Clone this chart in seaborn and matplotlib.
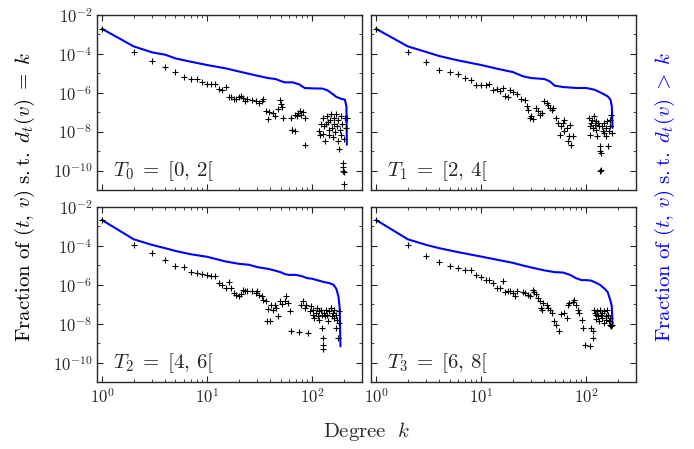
import matplotlib
matplotlib.use('Agg')
import matplotlib.pyplot as plt
import matplotlib.ticker as mticker
import seaborn as sns
import numpy as np
import pandas as pd

# --- data (values stored as log10 of the fraction) ---
labels = [r'$T_0\;=\;[0,\,2[$', r'$T_1\;=\;[2,\,4[$', r'$T_2\;=\;[4,\,6[$', r'$T_3\;=\;[6,\,8[$']

# fraction of (t,v) with d_t(v) = k   (black +)
t0_k = [1, 2, 3, 4, 5, 6, 7, 8, 9, 10, 11, 12, 13, 14, 15, 16, 17, 18, 19, 20, 21, 22, 23, 24,
        27, 29, 31, 33, 34, 36, 38, 39, 42, 44, 47, 49, 50, 52, 53, 63, 64, 65, 68, 69, 71, 73, 76,
        79, 81, 85, 86, 117, 120, 122, 126, 128, 131, 133, 136, 139, 141, 144, 146, 149, 152, 154,
        157, 160, 163, 166, 169, 172, 175, 178, 181, 184, 187, 190, 193, 196, 197, 198, 199, 200,
        203, 206, 210, 214]
t0_exp = [-2.72, -3.93, -4.38, -4.70, -4.94, -5.18, -5.28, -5.28, -5.47, -5.54, -5.57, -5.56,
          -5.81, -5.88, -5.71, -6.24, -6.22, -6.31, -6.31, -6.21, -6.19, -6.29, -6.41, -6.31,
          -6.36, -6.41, -6.53, -6.44, -6.34, -6.96, -7.35, -7.0, -7.05, -7.21, -6.85, -6.36, -6.6,
          -6.75, -7.30, -7.30, -7.9, -7.9, -7.98, -7.13, -7.21, -7.04, -6.96, -7.13, -7.01, -7.30,
          -8.70, -7.98, -8.2, -7.6, -8.1, -7.3, -7.7, -8.5, -7.6, -7.2, -7.5, -7.9, -8.2, -7.4,
          -7.1, -7.8, -8.3, -7.3, -7.6, -8.0, -7.1, -7.7, -8.5, -7.4, -8.9, -7.9, -7.2, -8.2,
          -7.6, -9.6, -9.8, -10.0, -10.1, -10.7, -8.4, -7.3, -7.8, -7.3]

t1_k = [1, 2, 3, 4, 5, 6, 7, 8, 9, 10, 11, 12, 13, 14, 15, 16, 17, 18, 19, 20, 22, 24, 26, 27,
        28, 29, 30, 31, 33, 35, 36, 38, 40, 42, 43, 45, 47, 48, 52, 54, 56, 58, 60, 61, 62, 65,
        67, 69, 70, 72, 75, 106, 108, 109, 112, 114, 116, 118, 120, 123, 124, 126, 129, 132, 134,
        135, 136, 137, 139, 142, 144, 146, 149, 153, 155, 157, 161, 164, 167, 169, 173, 175]
t1_exp = [-2.72, -3.93, -4.41, -4.84, -4.94, -5.06, -5.23, -5.33, -5.62, -5.62, -5.62, -5.54,
          -5.85, -5.81, -5.93, -5.74, -6.19, -6.24, -5.88, -5.95, -6.05, -6.32, -6.39, -6.70,
          -6.87, -7.30, -7.21, -7.35, -6.79, -6.96, -7.13, -7.04, -6.41, -6.53, -6.62, -6.79,
          -6.87, -6.79, -7.30, -7.56, -8.15, -7.73, -7.56, -7.38, -7.98, -7.81, -8.50, -8.24,
          -7.64, -8.67, -8.24, -7.30, -7.73, -8.15, -7.56, -7.38, -7.81, -7.21, -7.64, -7.47,
          -7.90, -8.24, -7.56, -7.73, -8.75, -10.03, -9.01, -9.95, -9.09, -7.73, -7.98, -7.56,
          -8.07, -7.81, -8.24, -7.47, -8.75, -7.98, -7.73, -7.38, -7.13, -8.07]

t2_k = [1, 2, 3, 4, 5, 6, 7, 8, 9, 10, 11, 12, 13, 14, 15, 16, 17, 18, 19, 20, 21, 22, 23, 24,
        27, 29, 30, 31, 33, 34, 36, 37, 38, 40, 41, 42, 44, 45, 47, 49, 52, 55, 57, 59, 61, 63,
        75, 79, 81, 85, 88, 91, 96, 98, 101, 103, 105, 109, 111, 113, 116, 117, 122, 124, 125,
        126, 127, 128, 131, 134, 136, 139, 142, 146, 150, 153, 157, 160, 163, 167, 169, 172,
        176, 179, 182]
t2_exp = [-2.67, -3.95, -4.39, -4.74, -5.01, -5.11, -5.35, -5.38, -5.45, -5.49, -5.54, -5.54,
          -5.90, -6.00, -6.14, -5.86, -6.17, -6.44, -6.51, -6.56, -6.46, -6.26, -6.31, -6.34,
          -6.34, -6.43, -6.31, -6.51, -6.60, -6.77, -6.85, -7.88, -7.25, -7.88, -7.03, -7.28,
          -7.03, -7.20, -7.62, -6.85, -6.99, -6.82, -6.60, -6.94, -7.37, -8.39, -8.43, -7.03,
          -6.85, -7.20, -7.03, -8.48, -7.37, -7.11, -7.54, -7.28, -7.71, -7.45, -7.20, -7.62,
          -7.37, -7.79, -7.28, -7.54, -8.22, -8.74, -9.08, -9.28, -7.45, -7.62, -7.28, -7.54,
          -7.88, -7.37, -7.20, -7.62, -7.45, -7.71, -7.28, -7.54, -8.22, -7.79, -8.74, -7.37,
          -7.97]

t3_k = [1, 2, 3, 4, 5, 6, 7, 8, 9, 10, 11, 12, 13, 14, 15, 16, 17, 18, 19, 20, 21, 22, 25, 26,
        28, 29, 31, 32, 33, 35, 36, 37, 38, 39, 42, 43, 45, 47, 49, 51, 55, 58, 61, 65, 67, 69,
        75, 77, 80, 83, 86, 91, 94, 98, 108, 111, 116, 117, 119, 121, 123, 124, 126, 129, 132,
        134, 137, 140, 142, 146, 149, 153, 155, 157, 161, 164, 167, 169, 173, 176]
t3_exp = [-2.67, -3.97, -4.52, -4.84, -5.04, -5.13, -5.25, -5.25, -5.52, -5.62, -5.74, -5.77,
          -5.91, -6.14, -6.17, -5.83, -6.37, -6.30, -6.33, -6.42, -6.56, -6.33, -6.38, -6.43,
          -6.51, -6.60, -6.26, -6.38, -6.48, -6.68, -6.85, -7.20, -7.28, -6.94, -7.03, -7.20,
          -7.28, -7.45, -7.88, -8.05, -8.39, -7.50, -7.45, -7.71, -7.03, -6.94, -6.89, -6.77,
          -7.03, -7.28, -7.45, -7.79, -8.22, -9.08, -9.16, -8.22, -8.39, -8.74, -7.28, -7.45,
          -7.74, -7.54, -7.37, -7.62, -7.88, -7.28, -7.54, -7.71, -7.45, -7.97, -7.37, -7.62,
          -7.79, -7.28, -7.54, -7.88, -7.71, -8.05, -8.14, -8.05]

# fraction of (t,v) with d_t(v) > k   (blue line)
t0_cc_k = [1, 2, 3, 4, 5, 7, 10, 15, 20, 25, 30, 38, 45, 50, 55, 65, 75, 85, 100, 125, 140, 155,
           170, 190, 205, 212, 214]
t0_cc_exp = [-2.72, -3.62, -3.93, -4.05, -4.24, -4.41, -4.58, -4.75, -4.91, -5.03, -5.13, -5.25,
             -5.30, -5.40, -5.47, -5.47, -5.57, -5.76, -5.78, -5.79, -5.88, -6.05, -6.22, -6.32,
             -6.36, -6.70, -8.67]
t1_cc_k = [1, 2, 3, 4, 6, 10, 15, 20, 25, 30, 40, 45, 50, 60, 80, 100, 120, 140, 160, 170, 175,
           178]
t1_cc_exp = [-2.72, -3.62, -3.91, -4.12, -4.34, -4.58, -4.80, -4.94, -5.16, -5.25, -5.30, -5.42,
             -5.64, -5.71, -5.76, -5.76, -5.85, -6.02, -6.19, -6.36, -6.70, -7.81]
t2_cc_k = [1, 2, 3, 4, 5, 7, 10, 15, 20, 25, 30, 38, 45, 50, 55, 60, 70, 80, 90, 100, 115, 130,
           145, 160, 170, 178, 183, 186]
t2_cc_exp = [-2.67, -3.66, -3.95, -4.12, -4.26, -4.43, -4.56, -4.80, -4.92, -4.97, -5.09, -5.18,
             -5.28, -5.35, -5.45, -5.49, -5.49, -5.56, -5.66, -5.69, -5.78, -5.86, -5.91, -6.00,
             -6.21, -6.60, -7.20, -9.16]
t3_cc_k = [1, 2, 3, 4, 6, 10, 15, 20, 25, 30, 40, 50, 60, 70, 80, 90, 100, 110, 120, 135, 150,
           160, 170, 175, 178]
t3_cc_exp = [-2.67, -3.66, -3.95, -4.12, -4.32, -4.55, -4.74, -4.87, -5.01, -5.11, -5.26, -5.35,
             -5.37, -5.49, -5.66, -5.76, -5.76, -5.78, -5.86, -6.00, -6.21, -6.38, -6.82, -7.11,
             -8.05]

points = [(t0_k, t0_exp), (t1_k, t1_exp), (t2_k, t2_exp), (t3_k, t3_exp)]
ccdfs = [(t0_cc_k, t0_cc_exp), (t1_cc_k, t1_cc_exp), (t2_cc_k, t2_cc_exp), (t3_cc_k, t3_cc_exp)]

sns.set_style('ticks')
plt.rcParams['mathtext.fontset'] = 'cm'
plt.rcParams['font.family'] = 'serif'
plt.rcParams['font.serif'] = ['cmr10', 'DejaVu Serif']
plt.rcParams['axes.formatter.use_mathtext'] = True
plt.rcParams['xtick.direction'] = 'in'
plt.rcParams['ytick.direction'] = 'in'
plt.rcParams['xtick.top'] = True
plt.rcParams['ytick.right'] = True

fig, axes = plt.subplots(2, 2, figsize=(6.94, 4.49), dpi=100, sharex=True, sharey=True)
fig.subplots_adjust(left=0.140, right=0.917, bottom=0.149, top=0.967, wspace=0.034, hspace=0.097)


def pow_fmt(v, pos):
    return r'$10^{%d}$' % int(round(np.log10(v)))


for i, ax in enumerate(axes.flat):
    k, e = points[i]
    df = pd.DataFrame({'k': k, 'frac': 10.0 ** np.array(e)})
    ck, ce = ccdfs[i]
    dc = pd.DataFrame({'k': ck, 'frac': 10.0 ** np.array(ce)})

    sns.lineplot(data=dc, x='k', y='frac', ax=ax, color='#0000ff', lw=1.5, sort=False,
                 estimator=None, zorder=2)
    sns.scatterplot(data=df, x='k', y='frac', ax=ax, marker='+', color='black', s=18,
                    linewidth=0.8, zorder=3)

    ax.set_xscale('log')
    ax.set_yscale('log')
    ax.set_xlim(0.9, 300)
    ax.set_ylim(1e-11, 1e-2)
    ax.yaxis.set_major_locator(mticker.FixedLocator([1e-10, 1e-8, 1e-6, 1e-4, 1e-2]))
    ax.yaxis.set_minor_locator(mticker.FixedLocator([1e-11, 1e-9, 1e-7, 1e-5, 1e-3]))
    ax.yaxis.set_minor_formatter(mticker.NullFormatter())
    ax.yaxis.set_major_formatter(mticker.FuncFormatter(pow_fmt))
    ax.xaxis.set_major_locator(mticker.LogLocator(base=10))
    ax.xaxis.set_minor_locator(mticker.LogLocator(base=10, subs=np.arange(2, 10)))
    ax.xaxis.set_minor_formatter(mticker.NullFormatter())
    ax.xaxis.set_major_formatter(mticker.FuncFormatter(pow_fmt))
    ax.tick_params(which='major', length=4, width=0.8, labelsize=12, top=True, right=True)
    ax.tick_params(which='minor', length=2, width=0.6, top=True, right=True)
    for sp in ax.spines.values():
        sp.set_linewidth(1.0)
    ax.set_xlabel('')
    ax.set_ylabel('')
    ax.text(0.06, 0.04, labels[i], transform=ax.transAxes, fontsize=15, ha='left', va='bottom')

fig.text(0.036, 0.56, r'$\mathrm{Fraction\ of\ }(t,\,v)\mathrm{\ s.t.\ }d_t(v)\;=\;k$',
         rotation=90, ha='center', va='center', fontsize=15, color='black')
fig.text(0.958, 0.56, r'$\mathrm{Fraction\ of\ }(t,\,v)\mathrm{\ s.t.\ }d_t(v)\;>\;k$',
         rotation=90, ha='center', va='center', fontsize=15, color='#0000ff')
fig.text(0.528, 0.038, r'$\mathrm{Degree\ \ }k$', ha='center', va='center', fontsize=15)

fig.savefig('out.png', dpi=100)
